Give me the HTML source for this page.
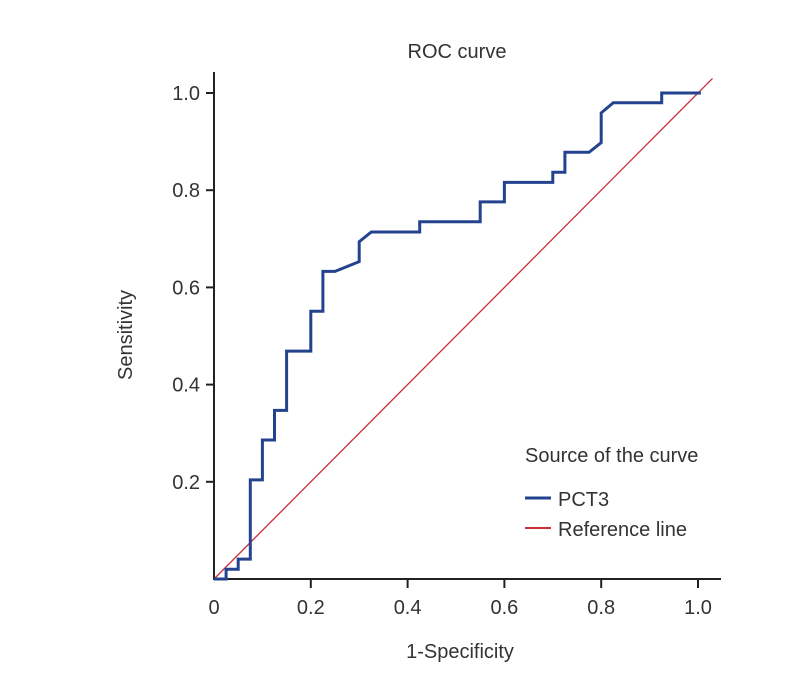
<!DOCTYPE html>
<html><head><meta charset="utf-8"><style>
html,body{margin:0;padding:0;background:#fff;}
svg{display:block;font-family:"Liberation Sans",sans-serif;}
</style></head><body>
<svg id="chart" width="795" height="678" viewBox="0 0 795 678">
<text x="457" y="58" font-size="20" fill="#333" text-anchor="middle">ROC curve</text>
<g id="axes"></g>
<g id="marks"></g>
<text x="460" y="658" font-size="20" fill="#333" text-anchor="middle">1-Specificity</text>
<text x="0" y="0" font-size="20" fill="#333" text-anchor="middle" transform="translate(132,335) rotate(-90)">Sensitivity</text>
<g>
<text x="525" y="462" font-size="20" fill="#333">Source of the curve</text>
<g>
<line x1="525" y1="498" x2="551" y2="498" stroke="#24438f" stroke-width="3"/>
<text x="558" y="506" font-size="20" fill="#333">PCT3</text></g>
<g>
<line x1="525" y1="528" x2="551" y2="528" stroke="#c8303a" stroke-width="2"/>
<text x="558" y="536" font-size="20" fill="#333">Reference line</text></g>
</g>
</svg>
<script>
const fpr = [0,0.025,0.025,0.05,0.05,0.075,0.075,0.1,0.1,0.125,0.125,0.15,0.15,0.2,0.2,0.225,0.225,0.25,0.3,0.3,0.325,0.425,0.425,0.55,0.55,0.6,0.6,0.7,0.7,0.725,0.725,0.775,0.8,0.8,0.825,0.925,0.925,1.006];
const tpr = [0,0,0.02,0.02,0.041,0.041,0.204,0.204,0.286,0.286,0.347,0.347,0.469,0.469,0.551,0.551,0.633,0.633,0.653,0.694,0.714,0.714,0.735,0.735,0.776,0.776,0.816,0.816,0.837,0.837,0.878,0.878,0.898,0.959,0.98,0.98,1.0,1.0];
const refX = [0,1.03];
const refY = [0,1.03];
const xTicks = [0,0.2,0.4,0.6,0.8,1.0];
const xTickLabels = ["0","0.2","0.4","0.6","0.8","1.0"];
const yTicks = [0.2,0.4,0.6,0.8,1.0];
const yTickLabels = ["0.2","0.4","0.6","0.8","1.0"];

const NS = "http://www.w3.org/2000/svg";
function xs(v){return 214 + 484*v;}
function ys(v){return 579 - 486*v;}
const axes = document.getElementById('axes');
const marks = document.getElementById('marks');
function mk(tag, attrs, parent){const e=document.createElementNS(NS,tag);for(const k in attrs)e.setAttribute(k,attrs[k]);parent.appendChild(e);return e;}

const xAxis = mk('line',{x1:214,y1:579,x2:721,y2:579,stroke:'#222','stroke-width':2},axes);


const yAxis = mk('line',{x1:214,y1:72,x2:214,y2:580,stroke:'#222','stroke-width':2},axes);



xTicks.forEach((t,i)=>{
  const x = xs(t);
  if(t>0){
    const tk = mk('line',{x1:x,y1:579,x2:x,y2:588,stroke:'#222','stroke-width':2},axes);
    
    
  }
  const tx = mk('text',{x:x,y:614,'font-size':20,fill:'#333','text-anchor':'middle'},axes);
  tx.textContent = xTickLabels[i];
  
  
});
yTicks.forEach((t,i)=>{
  const y = ys(t);
  const tk = mk('line',{x1:206,y1:y,x2:214,y2:y,stroke:'#222','stroke-width':2},axes);
  
  
  const tx = mk('text',{x:200,y:y+7,'font-size':20,fill:'#333','text-anchor':'end'},axes);
  tx.textContent = yTickLabels[i];
  
  
});

const ref = mk('line',{x1:xs(refX[0]),y1:ys(refY[0]),x2:xs(refX[1]),y2:ys(refY[1]),stroke:'#c8303a','stroke-width':1.3},marks);



const pts = fpr.map((f,i)=>xs(f).toFixed(1)+','+ys(tpr[i]).toFixed(1)).join(' ');
const curve = mk('polyline',{points:pts,fill:'none',stroke:'#24438f','stroke-width':3,'stroke-linejoin':'miter'},marks);


</script>
</body></html>
